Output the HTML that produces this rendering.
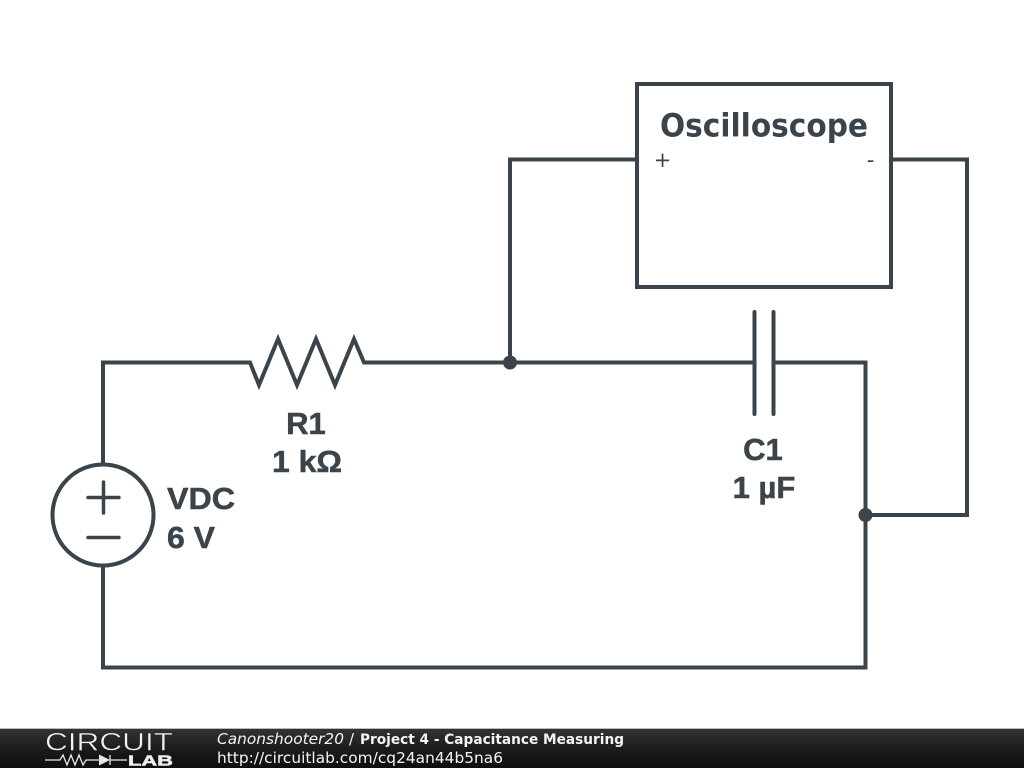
<!DOCTYPE html>
<html><head><meta charset="utf-8"><style>
html,body{margin:0;padding:0;background:#fff;width:1024px;height:768px;overflow:hidden}
svg{display:block}
</style></head><body>
<svg width="1024" height="768" viewBox="0 0 1024 768" xmlns="http://www.w3.org/2000/svg">
<defs><linearGradient id="g" x1="0" y1="0" x2="0" y2="1"><stop offset="0" stop-color="#333333"/><stop offset="0.5" stop-color="#1c1c1c"/><stop offset="1" stop-color="#0e0e0e"/></linearGradient></defs>
<rect width="1024" height="768" fill="#fff"/>
<g fill="none" stroke="#3b444b" stroke-width="4" stroke-linejoin="miter" stroke-linecap="round">
<rect x="637" y="84" width="254" height="203"/>
<path d="M103 464V362.500H250L259 385L278 339L297 385L316 339L335 385L354 339L364 362.500H754.500"/>
<path d="M773.500 362.500H865.500V667.500H103V566"/>
<path d="M510 362.500V159.500H637"/>
<path d="M891 159.500H967V515H865.500"/>
<path d="M754.500 312V414M773.500 312V414"/>
<circle cx="103" cy="515" r="50.500"/>
<path d="M88 497.500H119M103.500 482V513M88 537.500H119" stroke-width="3.500"/>
</g>
<circle cx="510" cy="362.500" r="7" fill="#3b444b"/>
<circle cx="865.500" cy="515" r="7" fill="#3b444b"/>
<g fill="#3b444b" stroke="#3b444b" stroke-width="0.500" font-family="'Liberation Sans',sans-serif" font-weight="700" font-size="31px">
<text x="306" y="434" text-anchor="middle">R1</text>
<text x="307" y="472" text-anchor="middle" textLength="70" lengthAdjust="spacingAndGlyphs">1 kΩ</text>
<text x="763" y="460" text-anchor="middle">C1</text>
<text x="764" y="498" text-anchor="middle">1 µF</text>
<text x="167" y="509" textLength="68" lengthAdjust="spacingAndGlyphs">VDC</text>
<text x="167" y="548" textLength="48" lengthAdjust="spacingAndGlyphs">6 V</text>
</g>
<text x="660" y="136.500" fill="#3b444b" font-family="'DejaVu Sans',sans-serif" font-weight="700" font-size="32px" textLength="208" lengthAdjust="spacingAndGlyphs">Oscilloscope</text>
<text x="662.500" y="167" text-anchor="middle" fill="#3b444b" font-family="'DejaVu Sans',sans-serif" font-size="21px">+</text>
<text x="870.500" y="167" text-anchor="middle" fill="#3b444b" font-family="'DejaVu Sans',sans-serif" font-size="21px">-</text>
<rect x="0" y="729" width="1024" height="39" fill="url(#g)"/>
<rect x="0" y="728" width="1024" height="1" fill="#bbbbbb"/>
<text x="45" y="750.500" fill="#f2f2f2" stroke="#1f1f1f" stroke-width="0.500" font-family="'Liberation Sans',sans-serif" font-size="25px" textLength="128" lengthAdjust="spacingAndGlyphs">CIRCUIT</text>
<path d="M45 760H60L63 755L67 765L71 755L75 765L79 755L83 765L86 760H99M110 760H127M110 755V765" fill="none" stroke="#e8e8e8" stroke-width="1.300"/>
<path d="M99 754.500L110 760L99 765.500Z" fill="#e8e8e8"/>
<text x="128" y="765.500" fill="#eeeeee" stroke="#eeeeee" stroke-width="0.500" font-family="'Liberation Sans',sans-serif" font-weight="700" font-size="14.500px" textLength="45" lengthAdjust="spacingAndGlyphs">LAB</text>
<g fill="#f4f4f4" font-family="'DejaVu Sans',sans-serif" font-size="15px">
<text x="217" y="744" font-style="italic" textLength="127" lengthAdjust="spacingAndGlyphs">Canonshooter20</text>
<text x="349" y="744">/</text>
<text x="360" y="744" font-weight="700" font-size="14px" textLength="264" lengthAdjust="spacingAndGlyphs">Project 4 - Capacitance Measuring</text>
<text x="217" y="763" textLength="286" lengthAdjust="spacingAndGlyphs">http://circuitlab.com/cq24an44b5na6</text>
</g>
</svg>
</body></html>
